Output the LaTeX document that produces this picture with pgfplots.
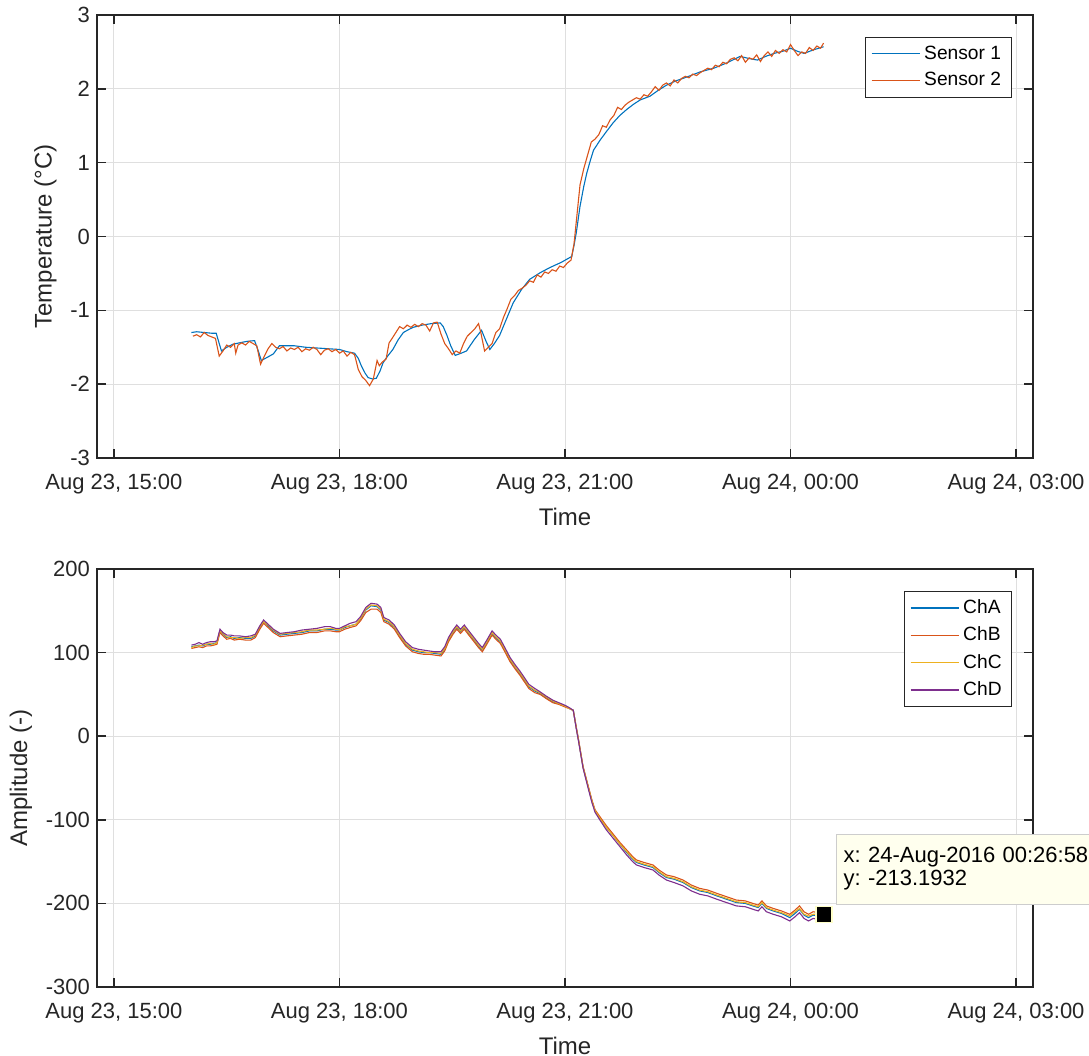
\documentclass[border=0pt]{standalone}
\usepackage{fontspec}
\setmainfont{Liberation Sans}
\usepackage{pgfplots}
\usepackage{pgfplotstable}
\pgfplotsset{compat=1.18}
\definecolor{mblue}{rgb}{0,0.447,0.741}
\definecolor{morange}{rgb}{0.85,0.325,0.098}
\definecolor{myellow}{rgb}{0.929,0.694,0.125}
\definecolor{mpurple}{rgb}{0.494,0.184,0.556}
\definecolor{axgray}{rgb}{0.15,0.15,0.15}
\definecolor{gridgray}{RGB}{223,223,223}
\definecolor{tipfill}{RGB}{255,255,238}
\definecolor{tipdraw}{RGB}{205,205,205}

\pgfplotstableread{
h A B C D
16.03 107 105 106 109
16.08 108 106 108 110
16.13 109 107 108 112
16.18 108 106 109 110
16.23 110 108 110 112
16.28 110 108 111 113
16.33 111 109 110 113
16.37 112 110 112 114
16.41 126 124 126 128
16.45 122 120 123 124
16.50 118 116 119 121
16.55 119 117 118 121
16.60 117 115 118 120
16.67 118 116 117 120
16.75 117 115 118 119
16.82 117 115 118 120
16.88 120 118 121 122
16.94 130 128 131 132
16.99 137 135 137 139
17.05 132 130 133 134
17.12 126 124 127 128
17.21 121 119 122 123
17.30 122 120 123 124
17.40 123 121 124 125
17.50 124 122 125 127
17.60 126 124 127 128
17.70 126 124 127 129
17.80 128 126 128 131
17.88 128 126 129 131
17.95 127 125 128 129
18.00 127 125 127 129
18.07 130 128 131 132
18.14 132 130 132 135
18.22 134 132 134 137
18.28 140 138 141 143
18.35 151 148 152 154
18.42 156 152 157 159
18.50 155 152 156 158
18.55 151 148 152 154
18.59 139 137 140 142
18.66 136 134 137 139
18.73 130 128 131 133
18.80 120 118 121 123
18.88 110 108 111 113
18.97 103 101 104 106
19.05 101 99 102 104
19.12 100 98 101 103
19.19 100 98 100 102
19.27 99 97 100 101
19.35 98 96 99 101
19.40 104 102 105 107
19.45 115 113 116 118
19.51 124 122 125 127
19.56 130 128 131 133
19.61 125 123 126 128
19.66 130 128 131 133
19.72 123 121 124 126
19.79 115 113 116 118
19.85 108 106 109 111
19.90 103 101 104 106
19.96 112 110 113 115
20.03 123 121 124 126
20.08 118 116 119 121
20.14 113 111 114 116
20.20 103 101 104 106
20.27 91 89 92 94
20.34 82 80 83 85
20.40 75 73 76 78
20.46 67 65 68 70
20.52 59 57 60 62
20.60 54 52 55 57
20.67 51 50 52 53
20.75 46 45 47 48
20.84 41 40 42 43
20.92 39 38 39 40
21.00 36 35 36 37
21.06 33 33 33 34
21.11 31 31 31 31
21.15 10 11 10 9
21.18 -5 -4 -5 -6
21.24 -37 -36 -37 -38
21.31 -61 -60 -61 -63
21.36 -78 -77 -78 -80
21.40 -89 -88 -89 -91
21.47 -99 -97 -99 -101
21.55 -109 -107 -109 -112
21.64 -119 -117 -119 -122
21.73 -129 -127 -129 -132
21.82 -139 -136 -138 -142
21.90 -147 -144 -146 -150
21.95 -151 -148 -150 -154
22.05 -154 -151 -153 -157
22.17 -157 -154 -156 -160
22.25 -163 -160 -162 -166
22.35 -169 -166 -168 -172
22.45 -171 -168 -170 -175
22.57 -175 -172 -174 -179
22.68 -181 -178 -180 -185
22.79 -185 -182 -184 -189
22.90 -187 -184 -186 -191
23.02 -191 -188 -190 -195
23.15 -195 -192 -194 -199
23.28 -199 -196 -198 -203
23.40 -200 -197 -199 -204
23.50 -203 -200 -202 -207
23.57 -205 -202 -204 -209
23.62 -200 -197 -199 -204
23.68 -206 -203 -205 -210
23.77 -209 -206 -208 -213
23.88 -212 -209 -211 -216
23.99 -217 -213 -215 -221
24.06 -212 -208 -210 -216
24.12 -207 -203 -206 -211
24.18 -214 -210 -213 -218
24.24 -217 -213 -215 -221
24.30 -214 -210 -213 -218
24.38 -215 -211 -213 -219
24.449 -213.19 -210 -212 -217
}\chtable

\pgfplotsset{
  mstyle/.style={
    scale only axis, width=468pt,
    xmin=14.774, xmax=27.226,
    xtick={15,18,21,24,27},
    xticklabels={{Aug 23, 15:00},{Aug 23, 18:00},{Aug 23, 21:00},{Aug 24, 00:00},{Aug 24, 03:00}},
    tick align=inside, xtick pos=both, ytick pos=both,
    major tick length=4.5pt,
    axis line style={axgray, line width=0.8pt},
    tick style={axgray, line width=0.8pt},
    grid=major, major grid style={gridgray, line width=0.5pt},
    tick label style={font=\fontsize{11}{13}\selectfont, text=axgray},
    xticklabel style={yshift=-4.5pt},
    label style={font=\fontsize{12}{14}\selectfont, text=axgray},
    xlabel={Time},
    legend cell align=left,
    legend style={draw=axgray, fill=white, font=\fontsize{9.6}{11}\selectfont, text=black, row sep=1.2pt, inner xsep=3pt, inner ysep=2pt},
    legend image code/.code={\draw[#1] (0pt,0pt) -- (24pt,0pt);},
    every axis plot/.append style={line width=0.55pt},
  }
}

\begin{document}
\begin{tikzpicture}
\begin{axis}[mstyle,
  at={(48.5pt,-229pt)}, anchor=south west, height=221.5pt,
  ymin=-3, ymax=3, ytick={-3,-2,-1,0,1,2,3}, yticklabels={-3,-2,-1,0,1,2,3},
  ylabel={Temperature (°C)},
  legend style={at={(0.977,0.9497)}, anchor=north east}]
\addplot[mblue] coordinates {
(16.03,-1.30) (16.10,-1.29) (16.20,-1.30) (16.30,-1.31) (16.36,-1.31) (16.40,-1.45) (16.43,-1.55)
(16.50,-1.50) (16.58,-1.46) (16.67,-1.44) (16.77,-1.42) (16.87,-1.41) (16.92,-1.55) (16.96,-1.68)
(17.05,-1.63) (17.12,-1.59) (17.20,-1.48) (17.30,-1.48) (17.40,-1.48) (17.55,-1.50) (17.70,-1.51)
(17.85,-1.52) (18.00,-1.53) (18.10,-1.56) (18.20,-1.58) (18.25,-1.65) (18.29,-1.75) (18.34,-1.85)
(18.38,-1.91) (18.44,-1.93) (18.49,-1.92) (18.54,-1.82) (18.58,-1.71) (18.64,-1.62) (18.71,-1.53)
(18.78,-1.40) (18.85,-1.30) (18.92,-1.26) (18.98,-1.23) (19.10,-1.20) (19.22,-1.18) (19.34,-1.17)
(19.38,-1.22) (19.43,-1.34) (19.48,-1.48) (19.54,-1.61) (19.62,-1.58) (19.69,-1.55) (19.79,-1.40)
(19.89,-1.27) (19.95,-1.42) (20.00,-1.53) (20.06,-1.45) (20.13,-1.34) (20.22,-1.12) (20.31,-0.90)
(20.42,-0.72) (20.53,-0.58) (20.67,-0.49) (20.80,-0.42) (20.95,-0.35) (21.09,-0.27) (21.12,-0.12)
(21.15,0.05) (21.20,0.41) (21.25,0.68) (21.29,0.86) (21.34,1.04) (21.38,1.17) (21.47,1.31)
(21.55,1.42) (21.64,1.54) (21.73,1.64) (21.82,1.72) (21.91,1.79) (22.00,1.85) (22.13,1.90)
(22.24,1.98) (22.35,2.05) (22.48,2.11) (22.62,2.16) (22.80,2.23) (22.98,2.28) (23.15,2.35)
(23.33,2.44) (23.45,2.41) (23.56,2.39) (23.67,2.44) (23.78,2.48) (23.90,2.51) (24.00,2.55)
(24.09,2.51) (24.18,2.48) (24.31,2.53) (24.44,2.57)};
\addplot[morange] coordinates {
(16.05,-1.35) (16.10,-1.33) (16.15,-1.36) (16.20,-1.30) (16.25,-1.34) (16.30,-1.36) (16.35,-1.38)
(16.40,-1.62) (16.45,-1.55) (16.50,-1.47) (16.55,-1.50) (16.60,-1.45) (16.62,-1.58) (16.65,-1.47)
(16.70,-1.44) (16.75,-1.47) (16.80,-1.42) (16.85,-1.45) (16.90,-1.48) (16.95,-1.73) (17.00,-1.62)
(17.05,-1.52) (17.10,-1.45) (17.15,-1.50) (17.20,-1.52) (17.25,-1.49) (17.30,-1.55) (17.35,-1.51)
(17.40,-1.53) (17.45,-1.50) (17.50,-1.56) (17.55,-1.52) (17.60,-1.54) (17.65,-1.50) (17.70,-1.53)
(17.75,-1.60) (17.80,-1.54) (17.85,-1.52) (17.90,-1.56) (17.95,-1.53) (18.00,-1.58) (18.05,-1.55)
(18.10,-1.62) (18.15,-1.57) (18.20,-1.60) (18.25,-1.80) (18.30,-1.90) (18.35,-1.95) (18.40,-2.02)
(18.45,-1.93) (18.50,-1.68) (18.53,-1.75) (18.57,-1.70) (18.62,-1.66) (18.66,-1.44) (18.70,-1.38)
(18.75,-1.30) (18.80,-1.22) (18.85,-1.25) (18.90,-1.20) (18.95,-1.23) (19.00,-1.19) (19.05,-1.22)
(19.10,-1.18) (19.15,-1.20) (19.20,-1.28) (19.25,-1.17) (19.30,-1.16) (19.35,-1.32) (19.40,-1.45)
(19.45,-1.52) (19.50,-1.60) (19.55,-1.55) (19.60,-1.58) (19.65,-1.45) (19.70,-1.35) (19.75,-1.30)
(19.80,-1.25) (19.85,-1.18) (19.88,-1.30) (19.93,-1.55) (19.98,-1.50) (20.03,-1.45) (20.08,-1.30)
(20.13,-1.25) (20.18,-1.10) (20.23,-0.98) (20.28,-0.85) (20.33,-0.80) (20.38,-0.73) (20.43,-0.70)
(20.48,-0.66) (20.53,-0.60) (20.58,-0.62) (20.63,-0.52) (20.68,-0.55) (20.73,-0.48) (20.78,-0.50)
(20.83,-0.45) (20.88,-0.47) (20.93,-0.40) (20.98,-0.42) (21.03,-0.36) (21.08,-0.32) (21.12,-0.10)
(21.16,0.30) (21.20,0.70) (21.25,0.92) (21.30,1.10) (21.35,1.28) (21.40,1.32) (21.45,1.38)
(21.50,1.50) (21.55,1.48) (21.60,1.58) (21.65,1.64) (21.70,1.75) (21.75,1.72) (21.80,1.78)
(21.85,1.82) (21.90,1.85) (21.95,1.88) (22.00,1.86) (22.05,1.92) (22.10,1.90) (22.15,1.96)
(22.20,2.03) (22.25,1.98) (22.30,2.05) (22.35,2.08) (22.40,2.04) (22.45,2.12) (22.50,2.08)
(22.55,2.14) (22.60,2.17) (22.65,2.15) (22.70,2.20) (22.75,2.18) (22.80,2.22) (22.85,2.25)
(22.90,2.28) (22.95,2.26) (23.00,2.32) (23.05,2.30) (23.10,2.36) (23.15,2.34) (23.20,2.40)
(23.25,2.42) (23.30,2.38) (23.35,2.45) (23.40,2.36) (23.45,2.42) (23.50,2.40) (23.55,2.46)
(23.60,2.37) (23.65,2.45) (23.70,2.50) (23.75,2.44) (23.80,2.52) (23.85,2.48) (23.90,2.53)
(23.95,2.50) (24.00,2.60) (24.05,2.52) (24.10,2.45) (24.15,2.50) (24.20,2.48) (24.25,2.56)
(24.30,2.52) (24.35,2.58) (24.40,2.55) (24.44,2.62)};
\legend{Sensor 1, Sensor 2}
\end{axis}

\begin{axis}[mstyle,
  at={(48.5pt,-493.5pt)}, anchor=south west, height=209pt,
  ymin=-300, ymax=200, ytick={-300,-200,-100,0,100,200},
  yticklabels={-300,-200,-100,0,100,200},
  ylabel={Amplitude (-)}, clip=false,
  legend style={at={(0.9776,0.947)}, anchor=north east}]
\addlegendimage{mblue, line width=0.6pt}
\addlegendentry{ChA}
\addlegendimage{morange, line width=0.6pt}
\addlegendentry{ChB}
\addlegendimage{myellow, line width=0.6pt}
\addlegendentry{ChC}
\addlegendimage{mpurple, line width=0.6pt}
\addlegendentry{ChD}
\addplot[mblue, forget plot] table[x=h,y=A] {\chtable};
\addplot[morange, forget plot] table[x=h,y=B] {\chtable};
\addplot[myellow, forget plot] table[x=h,y=C] {\chtable};
\addplot[mpurple, forget plot] table[x=h,y=D] {\chtable};
\addplot[only marks, mark=square*, mark size=4pt, mark options={fill=black, draw={rgb,255:red,255;green,255;blue,200}, line width=0.8pt}, forget plot] coordinates {(24.449,-213.1932)};
\node[anchor=south west, xshift=6pt, yshift=5pt, fill=tipfill, draw=tipdraw, align=left,
  font=\fontsize{11}{11.5}\selectfont\frenchspacing, text=black, inner xsep=3.5pt, inner ysep=6.8pt, text width=128pt]
  at (axis cs:24.449,-213.1932) {x: 24-Aug-2016 00:26:58\\y: -213.1932};
\end{axis}
\pgfresetboundingbox
\path[use as bounding box] (0,0) rectangle (544.5pt,-528pt);
\end{tikzpicture}
\end{document}
